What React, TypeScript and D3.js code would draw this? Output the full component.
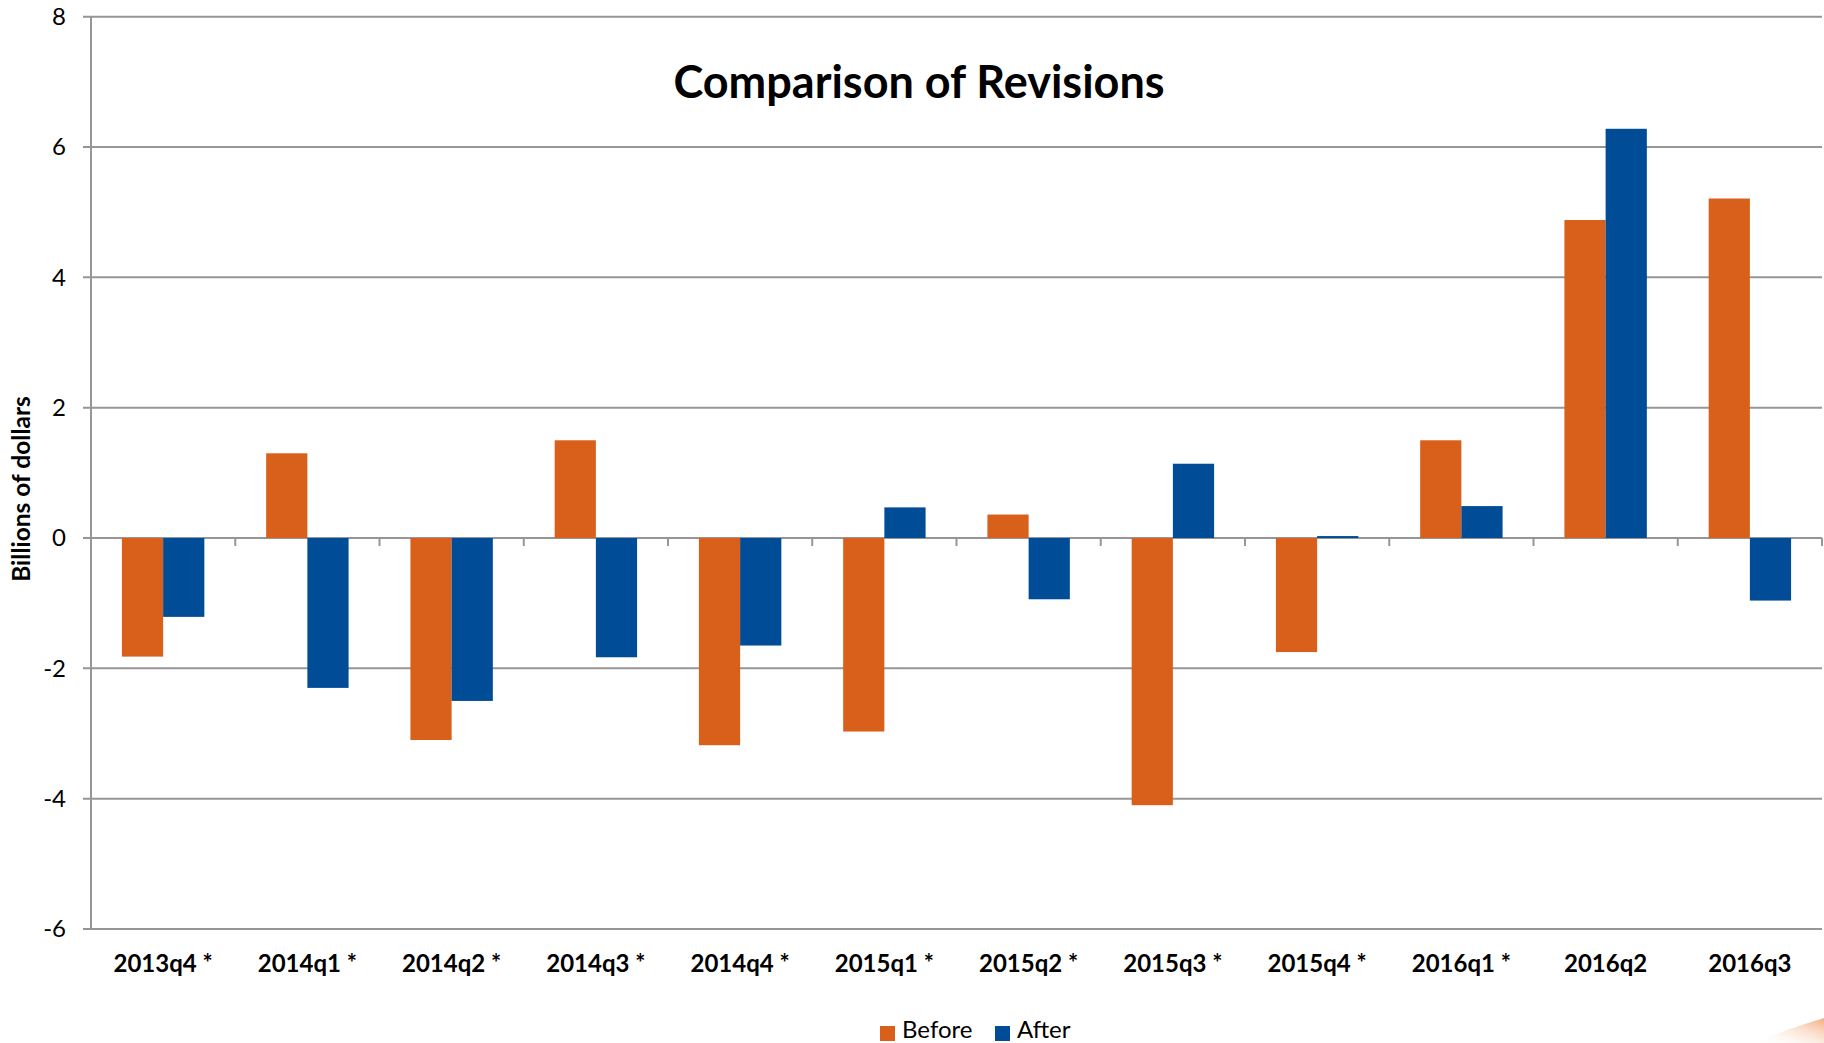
import React from "react";
import * as d3 from "d3";

const categories = ["2013q4 *", "2014q1 *", "2014q2 *", "2014q3 *", "2014q4 *", "2015q1 *", "2015q2 *", "2015q3 *", "2015q4 *", "2016q1 *", "2016q2", "2016q3"];
const before = [-1.82, 1.3, -3.1, 1.5, -3.18, -2.97, 0.36, -4.1, -1.75, 1.5, 4.88, 5.21];
const after = [-1.21, -2.3, -2.5, -1.83, -1.65, 0.47, -0.94, 1.14, 0.03, 0.49, 6.28, -0.96];
const yTicks = [-6, -4, -2, 0, 2, 4, 6, 8];
const seriesNames = ["Before", "After"];
const colors = ["#D9601A", "#004C97"];

const W = 1824, H = 1043;
const left = 91, right = 1822, top = 16.7, bottom = 929;
const font = "Lato, 'Open Sans', 'DejaVu Sans', sans-serif";

export default function App() {
  const x = d3.scaleBand<string>().domain(categories).range([left, right]).paddingInner(0).paddingOuter(0);
  const y = d3.scaleLinear().domain([-6, 8]).range([bottom, top]);
  const bw = x.bandwidth() / 3.5;
  const gridColor = "#969696";
  const series = [before, after];
  return (
    <svg width={W} height={H} style={{ position: "absolute", left: 0, top: 0, background: "#fff" }} fontFamily={font}>
      <defs>
        <linearGradient id="sw" x1="0" y1="1" x2="1" y2="0">
          <stop offset="0" stopColor="#ffffff" stopOpacity="0" />
          <stop offset="1" stopColor="#F2A36F" stopOpacity="0.9" />
        </linearGradient>
      </defs>
      {yTicks.map((t) => (
        <g key={t}>
          <line x1={left - 8} x2={right} y1={y(t)} y2={y(t)} stroke={gridColor} strokeWidth={2} />
          <text x={66} y={y(t)} dy="0.35em" textAnchor="end" fontSize={24} fill="#000">{t}</text>
        </g>
      ))}
      <line x1={left} x2={left} y1={top} y2={bottom} stroke={gridColor} strokeWidth={2} />
      {categories.map((c) => (
        <line key={c} x1={(x(c) as number) + x.bandwidth()} x2={(x(c) as number) + x.bandwidth()} y1={y(0)} y2={y(0) + 8} stroke={gridColor} strokeWidth={2} />
      ))}
      {series.map((s, si) => (
        <g key={si}>
          {s.map((v, i) => {
            const x0 = (x(categories[i]) as number) + x.bandwidth() / 2 - bw + si * bw;
            return (
              <rect key={i} x={x0} width={bw} y={Math.min(y(v), y(0))} height={Math.abs(y(v) - y(0))} fill={colors[si]} />
            );
          })}
        </g>
      ))}
      {categories.map((c) => (
        <text key={c} x={(x(c) as number) + x.bandwidth() / 2} y={972} textAnchor="middle" fontSize={24} fontWeight="bold" fill="#000">{c}</text>
      ))}
      <text x={919} y={98} textAnchor="middle" fontSize={45} fontWeight="bold" fill="#000">Comparison of Revisions</text>
      <text transform={`translate(30,489) rotate(-90)`} textAnchor="middle" fontSize={24.5} fontWeight="bold" fill="#000">Billions of dollars</text>
      {seriesNames.map((n, i) => {
        const lx = [880, 995][i];
        return (
          <g key={n}>
            <rect x={lx} y={1026} width={15} height={15} fill={colors[i]} />
            <text x={lx + 22} y={1038} fontSize={24} fill="#000">{n}</text>
          </g>
        );
      })}
      <path d="M1755,1043 C1785,1030 1805,1024 1824,1018 L1824,1043 Z" fill="url(#sw)" />
    </svg>
  );
}
